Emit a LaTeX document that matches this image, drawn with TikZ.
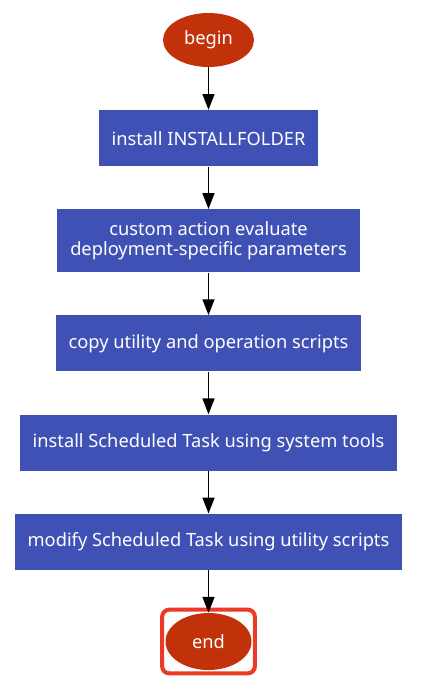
\documentclass[tikz,border=0pt]{standalone}
\usepackage{fontspec}
\setmainfont{Noto Sans}
\usetikzlibrary{shapes.geometric, arrows.meta, positioning, fit}
\usepackage{xcolor}
\definecolor{stepblue}{RGB}{63, 81, 181}
\definecolor{termred}{RGB}{194, 50, 10}
\definecolor{markred}{RGB}{236, 58, 38}
\tikzstyle{terminal} = [ellipse, minimum width=1.82cm, minimum height=1.08cm, text centered, fill=termred, text=white, inner sep=0pt]
\tikzstyle{process} = [rectangle, minimum height=1.12cm, inner xsep=0.26cm, inner ysep=7pt, align=center, fill=stepblue, text=white]
\tikzstyle{arrow} = [line width=0.85pt, -{Triangle[width=6.8pt, length=9pt]}]
\tikzstyle{highlight} = [rectangle, rounded corners=4pt, draw=markred, line width=2.3pt, inner sep=0.06cm]

\begin{document}
\begin{tikzpicture}[x=0.02cm, y=0.02cm, font=\fontsize{10.4}{11.4}\selectfont]
    \useasboundingbox (0,0) rectangle (439,-690);
    \node (begin) [terminal] at (208.5,-40) {begin};
    \node (inst) [process, below=0.85cm of begin] {install INSTALLFOLDER};
    \node (eval) [process, below=0.85cm of inst] {custom action evaluate\\deployment-specific parameters};
    \node (copy) [process, below=0.85cm of eval] {copy utility and operation scripts};
    \node (task) [process, below=0.85cm of copy] {install Scheduled Task using system tools};
    \node (modify) [process, below=0.85cm of task] {modify Scheduled Task using utility scripts};
    \node (end) [terminal, minimum width=1.72cm, minimum height=1.14cm, below=0.85cm of modify] {end};
    \node (mark) [highlight, fit=(end)] {};

    \draw [arrow] (begin) -- (inst);
    \draw [arrow] (inst) -- (eval);
    \draw [arrow] (eval) -- (copy);
    \draw [arrow] (copy) -- (task);
    \draw [arrow] (task) -- (modify);
    \draw [arrow] (modify) -- (end);
\end{tikzpicture}
\end{document}
